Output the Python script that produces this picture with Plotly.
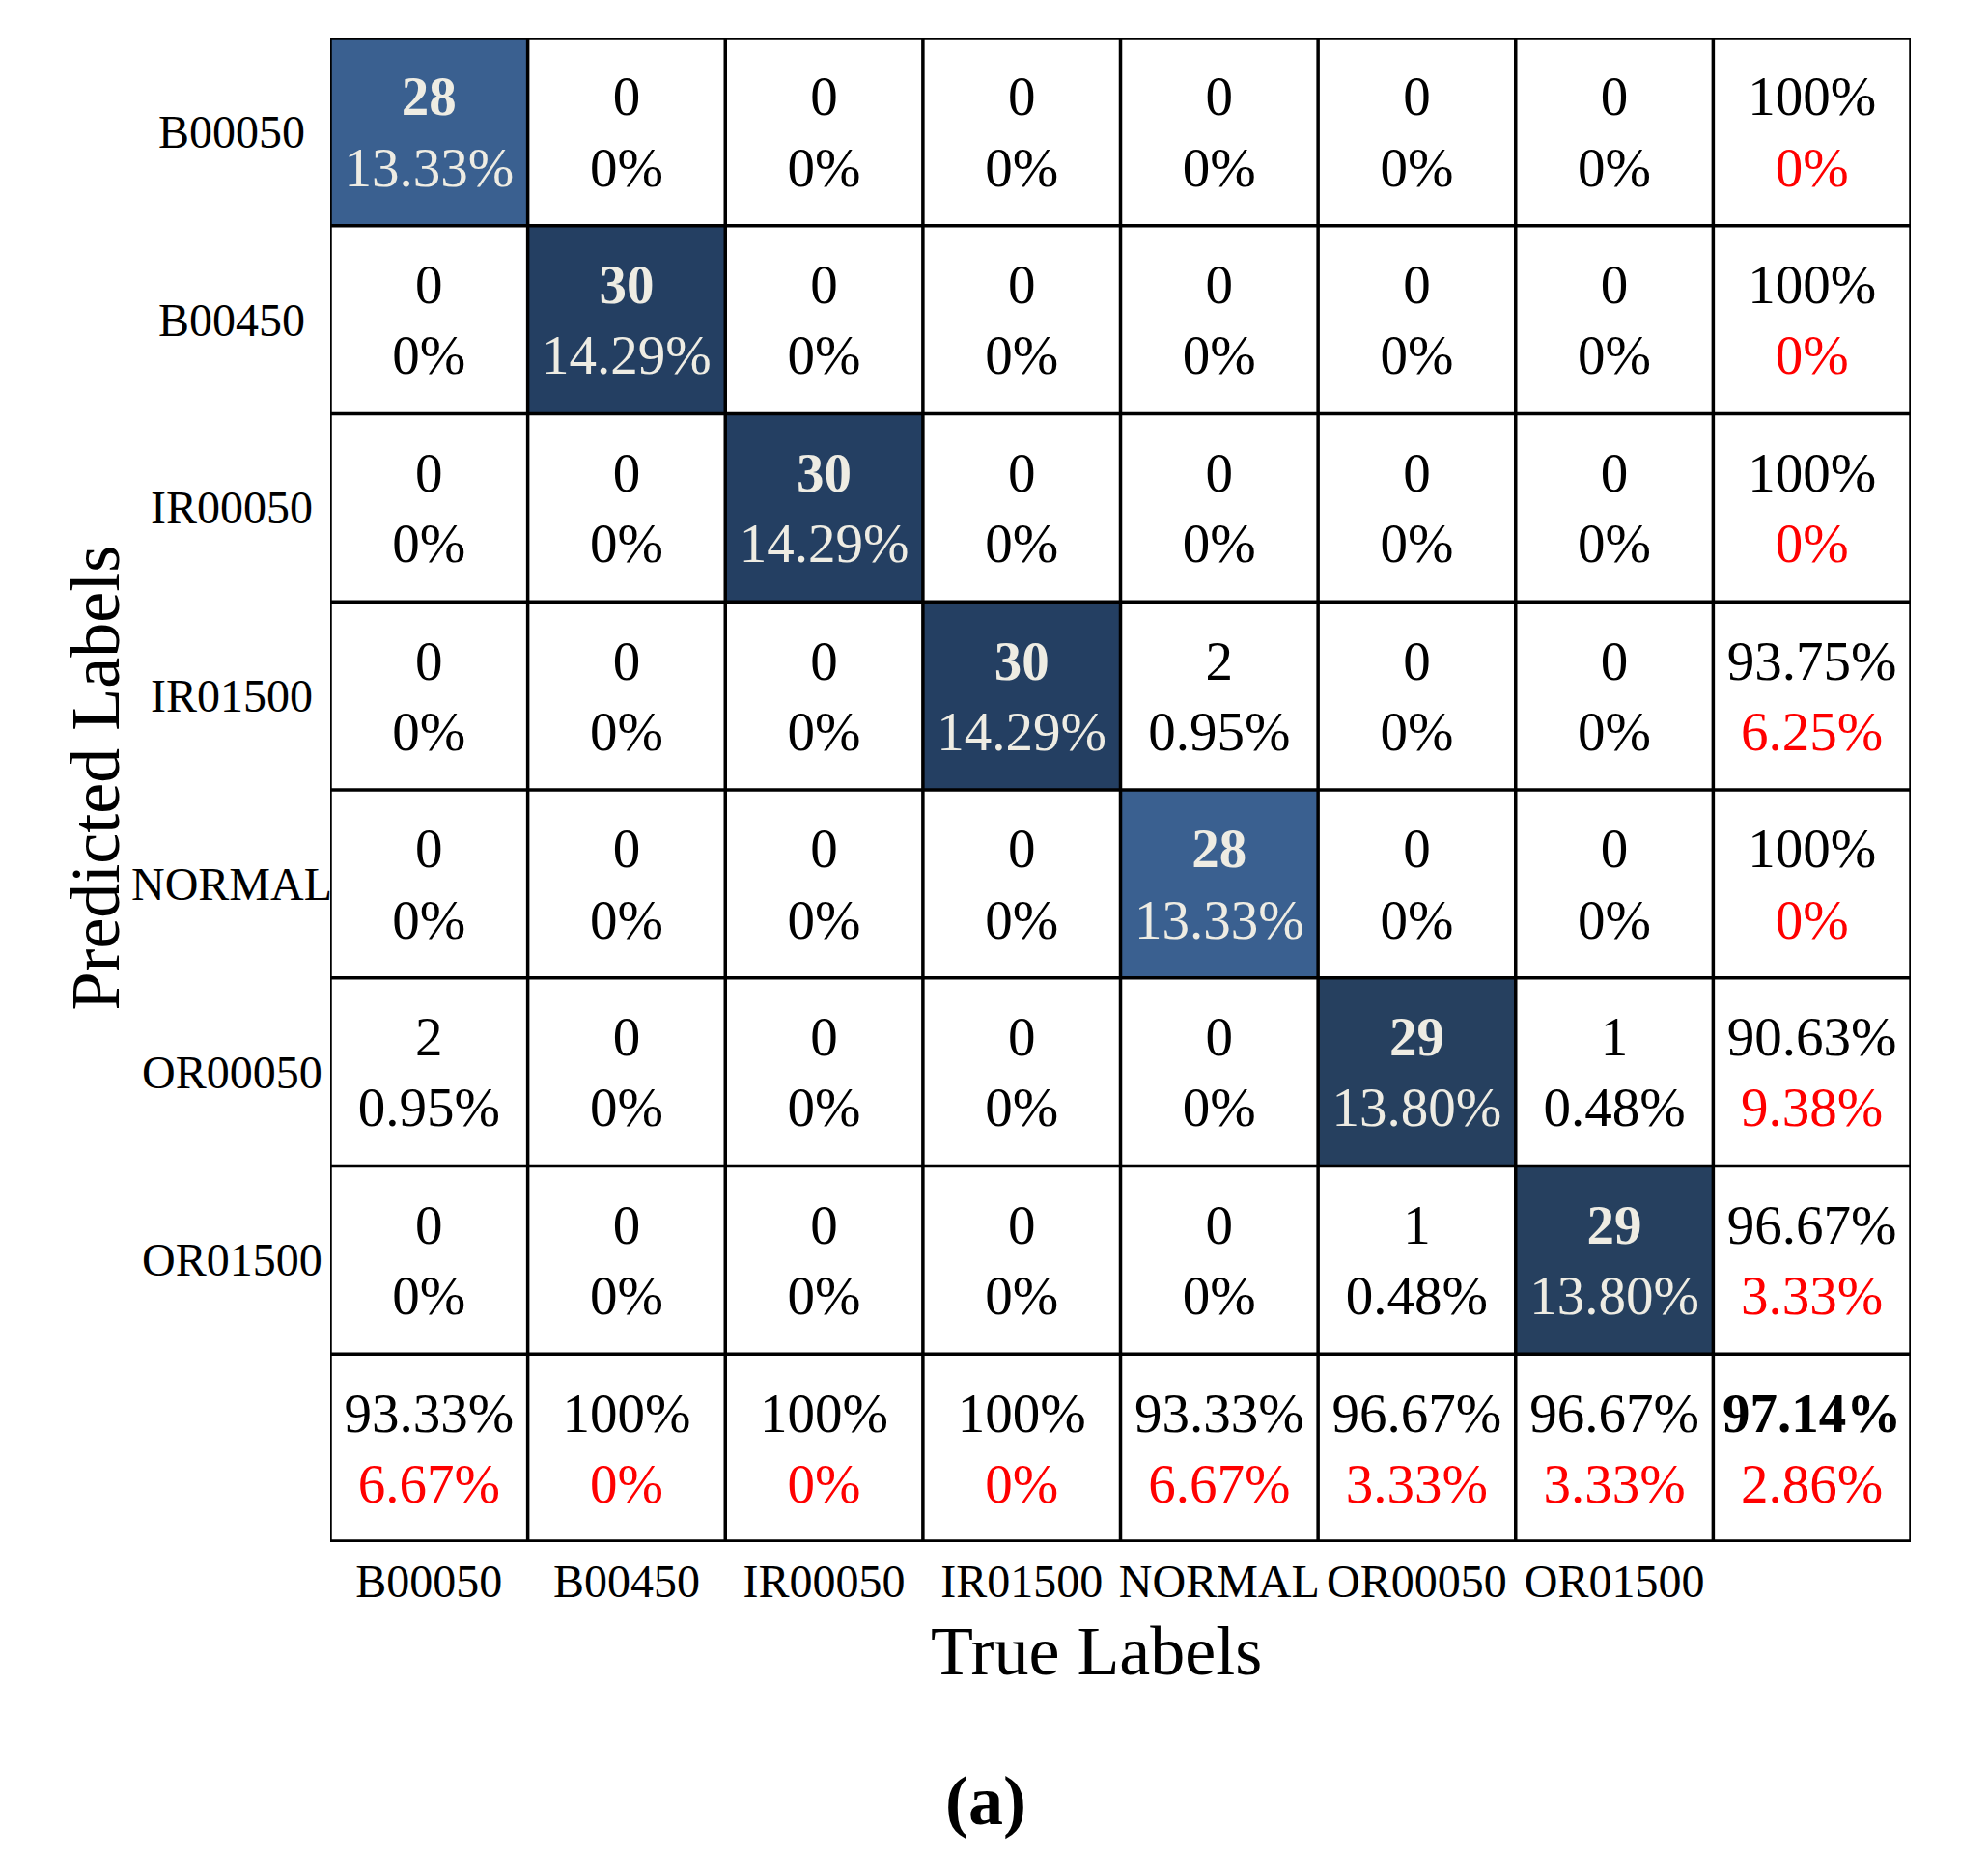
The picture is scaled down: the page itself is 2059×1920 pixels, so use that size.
import plotly.graph_objects as go

classes = ["B00050", "B00450", "IR00050", "IR01500", "NORMAL", "OR00050", "OR01500"]

# rows = predicted, columns = true
counts = [
    [28, 0, 0, 0, 0, 0, 0],
    [0, 30, 0, 0, 0, 0, 0],
    [0, 0, 30, 0, 0, 0, 0],
    [0, 0, 0, 30, 2, 0, 0],
    [0, 0, 0, 0, 28, 0, 0],
    [2, 0, 0, 0, 0, 29, 1],
    [0, 0, 0, 0, 0, 1, 29],
]
pct_text = {0: "0%", 1: "0.48%", 2: "0.95%", 28: "13.33%", 29: "13.80%", 30: "14.29%"}

row_correct = ["100%", "100%", "100%", "93.75%", "100%", "90.63%", "96.67%"]
row_error = ["0%", "0%", "0%", "6.25%", "0%", "9.38%", "3.33%"]
col_correct = ["93.33%", "100%", "100%", "100%", "93.33%", "96.67%", "96.67%"]
col_error = ["6.67%", "0%", "0%", "0%", "6.67%", "3.33%", "3.33%"]
overall_correct = "97.14%"
overall_error = "2.86%"

FONT = "Liberation Serif"
CELL_FS = 57
LIGHT = "#EEECE3"
RED = "#FF0000"
n = len(classes)
UP, DN = -0.16, 0.215

fig = go.Figure()

fig.add_trace(go.Heatmap(
    z=counts,
    x=list(range(n)),
    y=list(range(n)),
    zmin=0, zmax=30,
    colorscale=[[0.0, "#FFFFFF"], [0.5, "#FFFFFF"], [28 / 30, "#3A6090"],
                [29 / 30, "#26405F"], [1.0, "#243F62"]],
    showscale=False,
    hoverinfo="skip",
    xgap=0, ygap=0,
))

# cell texts
tx, ty, tt, tc = [], [], [], []
for r in range(n):
    for c in range(n):
        v = counts[r][c]
        diag = (r == c)
        col = LIGHT if diag else "black"
        tx += [c, c]
        ty += [r + UP, r + DN]
        tt += [f"<b>{v}</b>" if diag else str(v), pct_text[v]]
        tc += [col, col]
# summary column
for r in range(n):
    tx += [n, n]
    ty += [r + UP, r + DN]
    tt += [row_correct[r], row_error[r]]
    tc += ["black", RED]
# summary row
for c in range(n):
    tx += [c, c]
    ty += [n + UP, n + DN]
    tt += [col_correct[c], col_error[c]]
    tc += ["black", RED]
tx += [n, n]
ty += [n + UP, n + DN]
tt += [f"<b>{overall_correct}</b>", overall_error]
tc += ["black", RED]

fig.add_trace(go.Scatter(
    x=tx, y=ty, text=tt, mode="text",
    textfont=dict(family=FONT, size=CELL_FS, color=tc),
    textposition="middle center",
    hoverinfo="skip", showlegend=False,
))

# grid lines
for i in range(n + 2):
    p = i - 0.5
    fig.add_shape(type="line", x0=p, x1=p, y0=-0.5, y1=n + 0.5,
                  line=dict(color="black", width=3.5), layer="above")
    fig.add_shape(type="line", x0=-0.5, x1=n + 0.5, y0=p, y1=p,
                  line=dict(color="black", width=5.5 if i == n + 1 else 3.5), layer="above")

# y labels (centered)
for r, lab in enumerate(classes):
    fig.add_annotation(x=0, xref="paper", y=r, yref="y", text=lab, showarrow=False,
                       xanchor="center", xshift=-102,
                       font=dict(family=FONT, size=48, color="black"))

fig.add_annotation(x=0.485, xref="paper", y=-0.0725, yref="paper", text="True Labels",
                   showarrow=False, font=dict(family=FONT, size=72, color="black"),
                   xanchor="center", yanchor="middle")
fig.add_annotation(x=-0.149, xref="paper", y=0.508, yref="paper", text="Predicted Labels",
                   showarrow=False, textangle=-90,
                   font=dict(family=FONT, size=72, color="black"),
                   xanchor="center", yanchor="middle")
fig.add_annotation(x=0.4145, xref="paper", y=-0.172, yref="paper", text="<b>(a)</b>",
                   showarrow=False, font=dict(family=FONT, size=72, color="black"),
                   xanchor="center", yanchor="middle")

fig.update_xaxes(range=[-0.5, n + 0.5], tickvals=list(range(n)), ticktext=classes,
                 showgrid=False, zeroline=False, ticks="", ticklabelstandoff=8,
                 tickfont=dict(family=FONT, size=48, color="black"), fixedrange=True)
fig.update_yaxes(range=[n + 0.5, -0.5], showticklabels=False, showgrid=False,
                 zeroline=False, ticks="", fixedrange=True)

fig.update_layout(
    width=2059, height=1920,
    margin=dict(l=334, r=88, t=31, b=331),
    plot_bgcolor="white", paper_bgcolor="white",
    showlegend=False,
)

fig.write_html("out.html")
